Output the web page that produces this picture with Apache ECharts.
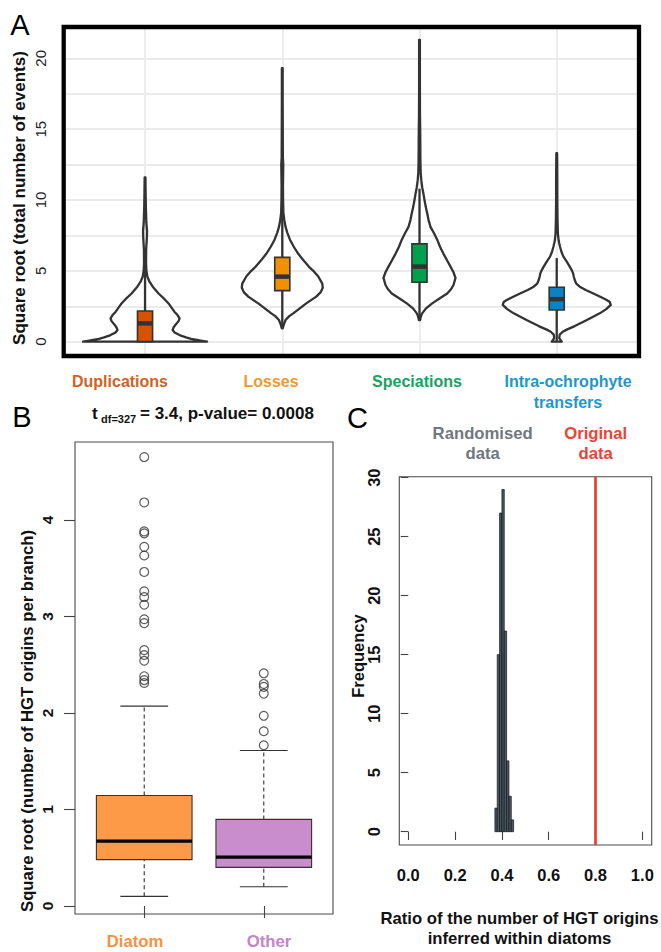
<!DOCTYPE html>
<html><head><meta charset="utf-8">
<script src="https://cdn.jsdelivr.net/npm/echarts@6/dist/echarts.min.js"></script>
<style>html,body{margin:0;padding:0;background:#fff}#c{width:661px;height:952px}</style>
</head><body><div id="c"></div>
<script>
// ---------- Panel A data ----------
const eventLabels = ['Duplications', 'Losses', 'Speciations', 'Intra-ochrophyte\ntransfers'];
const eventPositions = [1, 2, 3, 4];
const eventTicks = [0, 5, 10, 15, 20];
const eventGridValues = [0, 2.5, 5, 7.5, 10, 12.5, 15, 17.5, 20];
// violin density profiles: [sqrt(events), density]
const dupDensity = [[0,62],[0.06,57],[0.12,52],[0.2,46],[0.3,41],[0.45,35],[0.65,29.5],[0.82,27.5],[1.0,28.5],[1.2,30.5],[1.45,33.5],[1.65,34.5],[1.88,32.5],[2.1,29.5],[2.4,26.5],[2.7,23.5],[3.0,19.5],[3.4,13.5],[3.88,7.7],[4.25,4.3],[4.6,2.3],[5.0,1.4],[5.5,1.0],[6.5,1.1],[7.3,1.8],[7.8,2.0],[8.4,1.3],[9.5,0.8],[10.5,0.6],[11.6,0.4]];
const lossDensity = [[0.94,0.4],[1.2,1.5],[1.53,3.3],[1.8,7],[2.0,11],[2.3,16.5],[2.7,24],[3.18,34],[3.5,38.5],[3.8,40.5],[4.1,40],[4.6,36],[5.0,31],[5.3,26.5],[5.8,20.5],[6.2,16],[6.7,11.5],[7.2,7.7],[7.7,5],[8.1,3.3],[8.6,2],[9.1,1.1],[10,0.8],[11,0.7],[12,0.9],[12.5,1.0],[13,0.6],[15,0.5],[17,0.4],[19.3,0.4]];
const specDensity = [[1.53,0.6],[1.8,1.5],[2.0,2.7],[2.35,6.5],[2.7,12.7],[3.05,20],[3.4,27.7],[3.7,31.5],[4.0,34],[4.5,36],[4.9,34],[5.3,31],[5.75,27.5],[6.2,24],[6.7,20.5],[7.2,17.7],[7.65,14.5],[8.1,11],[8.6,9],[9.06,7.7],[9.5,6.3],[10.0,5],[10.5,3.8],[10.9,2.7],[11.4,1.8],[11.9,1.2],[12.8,0.9],[14,0.8],[15,0.7],[16,0.5],[18,0.4],[21.3,0.4]];
const intraDensity = [[0,5],[0.25,2.5],[0.5,3],[0.7,6],[0.85,10],[1.1,18],[1.4,26.7],[1.7,35],[2.0,43],[2.3,49.5],[2.6,54],[2.8,53],[2.94,50],[3.15,44],[3.4,36.7],[3.65,29],[3.88,23],[4.1,19.5],[4.35,18],[4.6,17],[4.8,16.5],[5.05,15],[5.3,13],[5.65,10],[6.0,6.7],[6.35,4.7],[6.7,3.3],[7.1,2],[7.6,1.2],[8.6,0.8],[10,0.6],[11.5,0.6],[13.3,0.4]];
// [position, lower whisker, q1, median, q3, upper whisker]
const eventBoxes = [[1,0,0,1.29,2.16,5.4],[2,0.94,3.6,4.59,5.95,9.5],[3,1.53,4.19,5.3,6.9,10.8],[4,0,2.24,3.0,3.84,5.9]];

// ---------- Panel B data ----------
const groupLabels = ['Diatom', 'Other'];
const groupPositions = [1, 2];
const hgtTicks = [0, 1, 2, 3, 4];
const hgtBoxes = [[1,0.10,0.48,0.672,1.145,2.07],[2,0.20,0.40,0.507,0.897,1.61]];
const diatomOutliers = [4.65,4.18,3.88,3.86,3.72,3.63,3.46,3.26,3.20,3.12,2.97,2.93,2.65,2.60,2.54,2.38,2.34,2.31];
const otherOutliers = [2.41,2.30,2.27,2.20,1.97,1.81,1.665];

// ---------- Panel C data ----------
const ratioTicks = [0, 0.2, 0.4, 0.6, 0.8, 1.0];
const freqTicks = [0, 5, 10, 15, 20, 25, 30];
const binStarts = [0.37, 0.38, 0.39, 0.40, 0.41, 0.42, 0.43, 0.44];
const binCounts = [2, 15, 27, 29, 17, 6, 3, 1];
const binWidth = 0.01;
const originalRatio = 0.8;

// ---------- styles ----------
const FONT = '"Liberation Sans", Arial, Helvetica, sans-serif';
const violinProfiles = [dupDensity, lossDensity, specDensity, intraDensity];
const eventColors = ['#D65205', '#F29100', '#00A04F', '#0A82C4'];
const eventLabelColors = ['#D5611E', '#EF9A2C', '#14A464', '#1E96CE'];
const groupColors = ['#FC9A48', '#C98DCE'];
const groupLabelColors = ['#F7913E', '#C484C9'];
const VIOLIN_SCALE = 1 / 137.2;
const EVENT_BOX_HALF = 0.055;
const HGT_BOX_HALF = 0.4;
const HGT_CAP_HALF = 0.2;

function renderViolin(params, api) {
  const prof = violinProfiles[params.dataIndex];
  const xc = api.value(0);
  const left = prof.map(p => api.coord([xc - p[1] * VIOLIN_SCALE, p[0]]));
  const right = prof.slice().reverse().map(p => api.coord([xc + p[1] * VIOLIN_SCALE, p[0]]));
  return {type: 'polygon', shape: {points: left.concat(right)},
    style: {fill: 'none', stroke: '#333', lineWidth: 2.3, lineJoin: 'round'}};
}
function renderEventBox(params, api) {
  const x = api.value(0), lo = api.value(1), q1 = api.value(2), med = api.value(3), q3 = api.value(4), hi = api.value(5);
  const c = (a, b) => api.coord([a, b]);
  const ch = [];
  const a1 = c(x, lo), a2 = c(x, q1), b1 = c(x, q3), b2 = c(x, hi);
  if (q1 > lo) ch.push({type: 'line', shape: {x1: a1[0], y1: a1[1], x2: a2[0], y2: a2[1]}, style: {stroke: '#333', lineWidth: 2.3}});
  ch.push({type: 'line', shape: {x1: b1[0], y1: b1[1], x2: b2[0], y2: b2[1]}, style: {stroke: '#333', lineWidth: 2.3}});
  const p1 = c(x - EVENT_BOX_HALF, q3), p2 = c(x + EVENT_BOX_HALF, q1);
  ch.push({type: 'rect', shape: {x: p1[0], y: p1[1], width: p2[0] - p1[0], height: p2[1] - p1[1]},
    style: {fill: eventColors[params.dataIndex], stroke: '#333', lineWidth: 1.6}});
  const m1 = c(x - EVENT_BOX_HALF, med), m2 = c(x + EVENT_BOX_HALF, med);
  ch.push({type: 'line', shape: {x1: m1[0], y1: m1[1], x2: m2[0], y2: m2[1]}, style: {stroke: '#333', lineWidth: 4.5}});
  return {type: 'group', children: ch};
}
function renderHgtBox(params, api) {
  const x = api.value(0), lo = api.value(1), q1 = api.value(2), med = api.value(3), q3 = api.value(4), hi = api.value(5);
  const c = (a, b) => api.coord([a, b]);
  const ln = (p, q, st) => ({type: 'line', shape: {x1: p[0], y1: p[1], x2: q[0], y2: q[1]}, style: st});
  const thin = {stroke: '#333', lineWidth: 1.1};
  const dash = {stroke: '#333', lineWidth: 1.1, lineDash: [4, 3]};
  const ch = [];
  ch.push(ln(c(x, lo), c(x, q1), dash));
  ch.push(ln(c(x, q3), c(x, hi), dash));
  ch.push(ln(c(x - HGT_CAP_HALF, lo), c(x + HGT_CAP_HALF, lo), thin));
  ch.push(ln(c(x - HGT_CAP_HALF, hi), c(x + HGT_CAP_HALF, hi), thin));
  const p1 = c(x - HGT_BOX_HALF, q3), p2 = c(x + HGT_BOX_HALF, q1);
  ch.push({type: 'rect', shape: {x: p1[0], y: p1[1], width: p2[0] - p1[0], height: p2[1] - p1[1]},
    style: {fill: groupColors[params.dataIndex], stroke: '#333', lineWidth: 1.1}});
  ch.push(ln(c(x - HGT_BOX_HALF, med), c(x + HGT_BOX_HALF, med), {stroke: '#000', lineWidth: 3.3}));
  return {type: 'group', children: ch};
}
function renderBin(params, api) {
  const s = api.value(0), e = api.value(1), n = api.value(2);
  const p1 = api.coord([s, n]), p2 = api.coord([e, 0]);
  return {type: 'rect', shape: {x: p1[0], y: p1[1], width: p2[0] - p1[0], height: p2[1] - p1[1]},
    style: {fill: '#4a5a66', stroke: '#111', lineWidth: 0.7}};
}

const noAxis = {axisLine: {show: false}, splitLine: {show: false}};
const tickLabel = (size, bold, margin, vals, extra) => Object.assign({
  customValues: vals, fontSize: size, fontWeight: bold ? 'bold' : 'normal', color: '#111', fontFamily: FONT, margin: margin
}, extra || {});

const chart = echarts.init(document.getElementById('c'), null, {renderer: 'svg', width: 661, height: 952});
const txt = (x, y, text, size, color, opts) => Object.assign({
  type: 'text', x: x, y: y, silent: true, z: 50,
  style: Object.assign({text: text, fill: color, font: 'bold ' + size + 'px ' + FONT,
    align: 'center', verticalAlign: 'middle', textAlign: 'center', textVerticalAlign: 'middle'}, (opts && opts.style) || {})
}, opts && opts.rotation ? {rotation: opts.rotation} : {});

chart.setOption({
  animation: false,
  backgroundColor: '#fff',
  grid: [
    {left: 66, top: 29, width: 571, height: 325, show: false},
    {left: 75, top: 442, width: 258, height: 472, show: true, borderColor: '#4a4a4a', borderWidth: 1.1, backgroundColor: 'transparent'},
    {left: 399.3, top: 476.7, width: 252.4, height: 368.3, show: true, borderColor: '#4a4a4a', borderWidth: 1.1, backgroundColor: 'transparent'}
  ],
  xAxis: [
    Object.assign({gridIndex: 0, type: 'value', min: 0.424, max: 4.585, axisTick: {show: false}, axisLabel: {show: false}}, noAxis),
    Object.assign({gridIndex: 1, type: 'value', min: 0.421, max: 2.579,
      axisTick: {show: true, length: 12, customValues: groupPositions, lineStyle: {color: '#444', width: 1.1}},
      axisLabel: {show: false, customValues: groupPositions}}, noAxis),
    Object.assign({gridIndex: 2, type: 'value', min: -0.0385, max: 1.040,
      axisTick: {show: true, length: 8.3, customValues: ratioTicks, lineStyle: {color: '#444', width: 1.1}},
      axisLabel: tickLabel(16.5, true, 21, ratioTicks, {formatter: v => v.toFixed(1)})}, noAxis)
  ],
  yAxis: [
    Object.assign({gridIndex: 0, type: 'value', min: -0.87, max: 22.07, axisTick: {show: false},
      axisLabel: tickLabel(15, false, 18, eventTicks, {rotate: 90, color: '#222'})}, noAxis),
    Object.assign({gridIndex: 1, type: 'value', min: -0.083, max: 4.806,
      axisTick: {show: true, length: 11, customValues: hgtTicks, lineStyle: {color: '#444', width: 1.1}},
      axisLabel: tickLabel(15.5, true, 20, hgtTicks, {rotate: 90})}, noAxis),
    Object.assign({gridIndex: 2, type: 'value', min: -1.127, max: 30.08,
      axisTick: {show: true, length: 7.6, customValues: freqTicks, lineStyle: {color: '#444', width: 1.1}},
      axisLabel: tickLabel(16.5, true, 17, freqTicks, {rotate: 90})}, noAxis)
  ],
  series: [
    {type: 'line', xAxisIndex: 0, yAxisIndex: 0, data: [], silent: true, z: 1,
      markLine: {z: 1, silent: true, symbol: ['none', 'none'], label: {show: false}, emphasis: {disabled: true},
        lineStyle: {color: '#EBEBEB', width: 1.8, type: 'solid'},
        data: eventGridValues.map(v => ({yAxis: v})).concat(eventPositions.map(v => ({xAxis: v})))}},
    {type: 'custom', name: 'violin', xAxisIndex: 0, yAxisIndex: 0, z: 10, renderItem: renderViolin,
      data: eventPositions.map(p => [p]), encode: {x: 0}},
    {type: 'custom', name: 'events box', xAxisIndex: 0, yAxisIndex: 0, z: 11, renderItem: renderEventBox,
      data: eventBoxes, encode: {x: 0, y: [1, 5]}},
    {type: 'custom', name: 'HGT box', xAxisIndex: 1, yAxisIndex: 1, z: 10, renderItem: renderHgtBox,
      data: hgtBoxes, encode: {x: 0, y: [1, 5]}},
    {type: 'scatter', name: 'Diatom outliers', xAxisIndex: 1, yAxisIndex: 1, z: 11, symbol: 'circle', symbolSize: 8.8,
      itemStyle: {color: 'rgba(255,255,255,0)', borderColor: '#333', borderWidth: 1.2},
      data: diatomOutliers.map(v => [groupPositions[0], v])},
    {type: 'scatter', name: 'Other outliers', xAxisIndex: 1, yAxisIndex: 1, z: 11, symbol: 'circle', symbolSize: 8.8,
      itemStyle: {color: 'rgba(255,255,255,0)', borderColor: '#333', borderWidth: 1.2},
      data: otherOutliers.map(v => [groupPositions[1], v])},
    {type: 'custom', name: 'Randomised', xAxisIndex: 2, yAxisIndex: 2, z: 10, renderItem: renderBin,
      data: binStarts.map((s, i) => [s, s + binWidth, binCounts[i]]), encode: {x: [0, 1], y: 2}},
    {type: 'line', xAxisIndex: 2, yAxisIndex: 2, data: [], silent: true, z: 12,
      markLine: {z: 12, silent: true, symbol: ['none', 'none'], label: {show: false}, emphasis: {disabled: true},
        lineStyle: {color: '#E8402E', width: 2.7, type: 'solid'}, data: [{xAxis: originalRatio}]}}
  ],
  graphic: [
    {type: 'rect', silent: true, z: 60, shape: {x: 63.7, y: 27, width: 575.3, height: 329},
      style: {fill: 'none', stroke: '#000', lineWidth: 4.3}},
    {type: 'text', x: 20, y: 25, silent: true, style: {text: 'A', fill: '#000', font: 'normal 29px ' + FONT, align: 'center', verticalAlign: 'middle', textAlign: 'center', textVerticalAlign: 'middle'}},
    {type: 'text', x: 22, y: 417, silent: true, style: {text: 'B', fill: '#000', font: 'normal 29px ' + FONT, align: 'center', verticalAlign: 'middle', textAlign: 'center', textVerticalAlign: 'middle'}},
    {type: 'text', x: 357.5, y: 418, silent: true, style: {text: 'C', fill: '#000', font: 'normal 29px ' + FONT, align: 'center', verticalAlign: 'middle', textAlign: 'center', textVerticalAlign: 'middle'}},
    txt(19, 198, 'Square root (total number of events)', 17, '#111', {rotation: Math.PI / 2}),
    txt(120, 381, eventLabels[0], 16, eventLabelColors[0]),
    txt(271, 381, eventLabels[1], 16, eventLabelColors[1]),
    txt(417, 381, eventLabels[2], 16, eventLabelColors[2]),
    txt(568, 391.5, eventLabels[3], 16, eventLabelColors[3], {style: {lineHeight: 21}}),
    txt(92, 413, 't', 17, '#111', {style: {align: 'left', textAlign: 'left'}}),
    txt(101, 419, 'df=327', 11, '#111', {style: {align: 'left', textAlign: 'left'}}),
    txt(140, 413, '= 3.4, p-value= 0.0008', 17, '#111', {style: {align: 'left', textAlign: 'left'}}),
    txt(27, 721, 'Square root (number of HGT origins per branch)', 16.7, '#111', {rotation: Math.PI / 2}),
    txt(135, 941, groupLabels[0], 16.7, groupLabelColors[0]),
    txt(269, 941, groupLabels[1], 16.7, groupLabelColors[1]),
    txt(482.7, 443, 'Randomised\ndata', 16.7, '#6F7781', {style: {lineHeight: 20}}),
    txt(595.7, 443, 'Original\ndata', 16.7, '#EC4434', {style: {lineHeight: 20}}),
    txt(358, 656, 'Frequency', 16.5, '#111', {rotation: Math.PI / 2}),
    txt(519.5, 928, 'Ratio of the number of HGT origins\ninferred within diatoms', 16.7, '#111', {style: {lineHeight: 20}})
  ]
});
</script>
</body></html>
